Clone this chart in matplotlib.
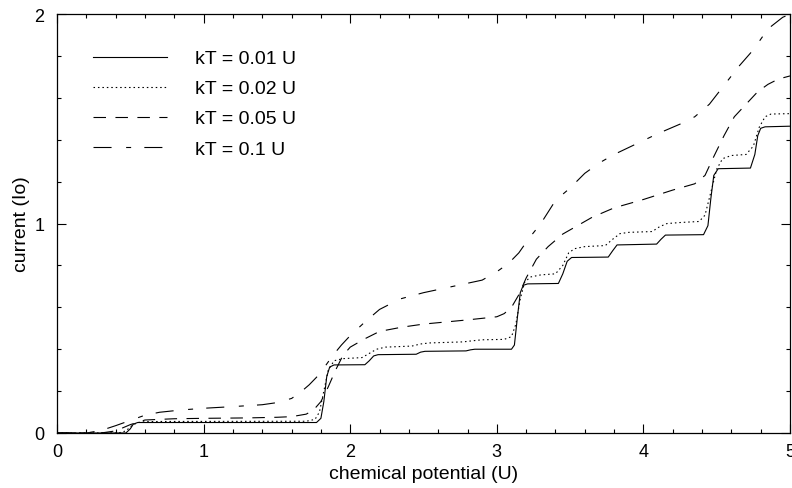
import matplotlib
matplotlib.use("Agg")
import matplotlib.pyplot as plt
from matplotlib.ticker import MultipleLocator

plt.rcParams['font.family'] = ['Liberation Sans', 'DejaVu Sans']
plt.rcParams['lines.scale_dashes'] = False

# kT = 0.01 U
x1 = [0, 0.47, 0.50, 0.52, 0.55, 0.6, 1.77, 1.80, 1.82, 1.84, 1.86, 1.89, 2.10, 2.13, 2.16, 2.19,
      2.45, 2.48, 2.51, 2.79, 2.82, 2.85, 3.10, 3.12, 3.14, 3.16, 3.18, 3.21, 3.42, 3.45, 3.48, 3.51,
      3.76, 3.79, 3.82, 4.09, 4.12, 4.15, 4.41, 4.44, 4.46, 4.48, 4.51, 4.73, 4.76, 4.78, 4.80, 4.83, 5.0]
y1 = [0, 0, 0.02, 0.042, 0.05, 0.05, 0.05, 0.07, 0.15, 0.27, 0.315, 0.325, 0.326, 0.345, 0.368, 0.374,
      0.376, 0.386, 0.39, 0.392, 0.397, 0.40, 0.40, 0.42, 0.55, 0.67, 0.705, 0.712, 0.714, 0.76, 0.82, 0.838,
      0.84, 0.87, 0.898, 0.902, 0.925, 0.945, 0.947, 0.99, 1.12, 1.23, 1.262, 1.265, 1.33, 1.42, 1.455, 1.462, 1.465]

# kT = 0.02 U
x2 = [0, 0.42, 0.47, 0.51, 0.55, 0.6, 0.7, 1.7, 1.76, 1.79, 1.82, 1.85, 1.89, 1.95, 2.08, 2.13, 2.18, 2.24,
      2.42, 2.48, 2.54, 2.77, 2.83, 2.9, 3.05, 3.10, 3.13, 3.16, 3.19, 3.23, 3.3, 3.4, 3.45, 3.49, 3.53, 3.6,
      3.74, 3.79, 3.84, 3.9, 4.06, 4.11, 4.16, 4.25, 4.38, 4.42, 4.46, 4.50, 4.54, 4.6, 4.70, 4.75, 4.79, 4.83,
      4.87, 5.0]
y2 = [0, 0, 0.01, 0.035, 0.05, 0.054, 0.055, 0.056, 0.065, 0.1, 0.2, 0.3, 0.345, 0.355, 0.36, 0.38, 0.40, 0.41,
      0.415, 0.425, 0.43, 0.435, 0.44, 0.445, 0.447, 0.46, 0.52, 0.64, 0.72, 0.745, 0.755, 0.76, 0.80, 0.86, 0.88,
      0.89, 0.895, 0.925, 0.952, 0.958, 0.962, 0.985, 1.0, 1.005, 1.01, 1.04, 1.15, 1.26, 1.31, 1.325, 1.33, 1.37,
      1.46, 1.51, 1.523, 1.525]

# kT = 0.05 U
x3 = [0, 0.3, 0.4, 0.5, 0.6, 0.8, 1.0, 1.3, 1.5, 1.6, 1.7, 1.75, 1.8, 1.85, 1.9, 1.95, 2.0, 2.1, 2.2, 2.35,
      2.5, 2.8, 3.0, 3.05, 3.1, 3.15, 3.2, 3.27, 3.35, 3.45, 3.55, 3.65, 3.8, 4.0, 4.2, 4.35, 4.42, 4.48, 4.55,
      4.62, 4.7, 4.78, 4.85, 4.92, 5.0]
y3 = [0, 0, 0.01, 0.04, 0.062, 0.068, 0.07, 0.072, 0.075, 0.078, 0.09, 0.11, 0.15, 0.22, 0.30, 0.37, 0.41,
      0.45, 0.485, 0.505, 0.52, 0.54, 0.555, 0.57, 0.60, 0.66, 0.74, 0.83, 0.89, 0.95, 0.99, 1.03, 1.075, 1.115,
      1.16, 1.19, 1.23, 1.32, 1.42, 1.51, 1.57, 1.63, 1.665, 1.69, 1.705]

# kT = 0.1 U
x4 = [0, 0.2, 0.3, 0.4, 0.5, 0.6, 0.7, 0.85, 1.0, 1.2, 1.4, 1.5, 1.6, 1.66, 1.72, 1.77, 1.82, 1.88, 1.94,
      2.0, 2.1, 2.2, 2.34, 2.5, 2.7, 2.9, 3.0, 3.08, 3.15, 3.22, 3.3, 3.4, 3.5, 3.6, 3.7, 3.8, 3.95, 4.1, 4.25,
      4.35, 4.45, 4.55, 4.65, 4.75, 4.85, 4.95, 5.0]
y4 = [0, 0, 0.012, 0.035, 0.06, 0.085, 0.099, 0.11, 0.118, 0.126, 0.135, 0.145, 0.165, 0.194, 0.23, 0.266,
      0.31, 0.369, 0.42, 0.465, 0.53, 0.59, 0.64, 0.67, 0.70, 0.73, 0.77, 0.81, 0.86, 0.93, 1.0, 1.11, 1.17,
      1.24, 1.29, 1.33, 1.38, 1.43, 1.475, 1.51, 1.57, 1.66, 1.75, 1.83, 1.93, 1.985, 2.0]

labels = ['kT = 0.01 U', 'kT = 0.02 U', 'kT = 0.05 U', 'kT = 0.1 U']
xticks = [0, 1, 2, 3, 4, 5]
yticks = [0, 1, 2]

fig = plt.figure(figsize=(7.92, 4.89), dpi=100)
ax = fig.add_axes([0.072, 0.1125, 0.9255, 0.8565])

lw = 0.8
ax.plot(x1, y1, color='black', lw=lw, linestyle='-', label=labels[0])
ax.plot(x2, y2, color='black', lw=lw, linestyle=(0, (1.1, 2.1)), label=labels[1])
ax.plot(x3, y3, color='black', lw=lw, linestyle=(0, (9, 6.8)), label=labels[2])
ax.plot(x4, y4, color='black', lw=lw, linestyle=(0, (13, 10.5, 3.6, 9.5)), label=labels[3])

ax.set_xlim(0, 5)
ax.set_ylim(0, 2)
ax.set_xticks(xticks)
ax.set_yticks(yticks)
ax.xaxis.set_minor_locator(MultipleLocator(0.2))
ax.yaxis.set_minor_locator(MultipleLocator(0.2))
ax.tick_params(which='both', direction='in', top=True, right=True, width=0.8, labelsize=13)
ax.tick_params(which='major', length=6.5)
ax.tick_params(which='minor', length=3)
ax.tick_params(axis='x', pad=7.5)
ax.tick_params(axis='y', pad=9)
for s in ax.spines.values():
    s.set_linewidth(0.9)

ax.set_xlabel('chemical potential (U)', fontsize=14, labelpad=3)
ax.set_ylabel('current (Io)', fontsize=14, labelpad=3)

ax.legend(loc='upper left', bbox_to_anchor=(0.049, 0.915), frameon=False, fontsize=14,
          handlelength=3.8, handletextpad=1.45, labelspacing=0.64, borderpad=0, borderaxespad=0)

fig.savefig('out.png', dpi=100)
